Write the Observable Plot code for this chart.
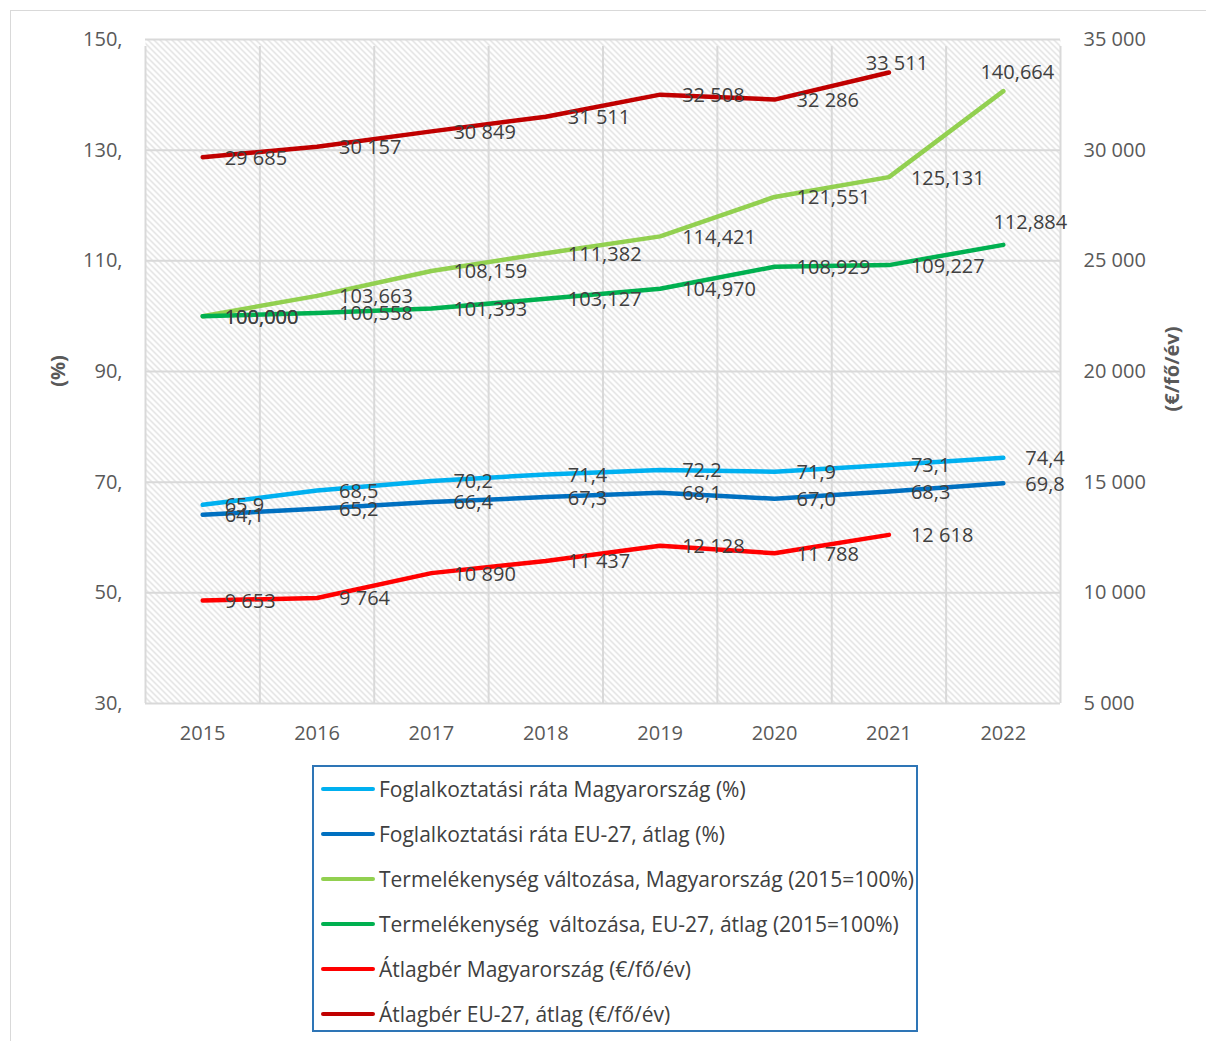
<!DOCTYPE html>
<html>
<head>
<meta charset="utf-8">
<script src="https://cdn.jsdelivr.net/npm/d3@7"></script>
<script src="https://cdn.jsdelivr.net/npm/@observablehq/plot@0.6"></script>
<style>
  html, body { margin: 0; padding: 0; overflow: hidden; background: #fff; }
  body { width: 1206px; height: 1041px; position: relative; font-family: "Open Sans", sans-serif; }
  #outer { position: absolute; left: 10px; top: 10px; width: 1300px; height: 1200px; border: 1.5px solid #d9d9d9; }
  #chart { position: absolute; left: 0; top: 0; }
  #legend { position: absolute; left: 312px; top: 765px; width: 606px; height: 267px; box-sizing: border-box; border: 2px solid #2e75b6; background: #fff; }
  .item { position: absolute; left: 0; height: 30px; display: flex; align-items: center; white-space: pre; }
  .swatch { width: 54px; height: 4px; border-radius: 2px; margin-left: 7px; margin-right: 4px; flex: none; }
  .label { font-size: 21px; color: #404040; white-space: pre; }
</style>
</head>
<body>
<div id="outer"></div>
<div id="chart"></div>
<div id="legend"></div>
<script>
// Years on the category axis
const years = [2015, 2016, 2017, 2018, 2019, 2020, 2021, 2022];
const wageYears = [2015, 2016, 2017, 2018, 2019, 2020, 2021];

// Employment rate (%)
const employmentHU = [65.9, 68.5, 70.2, 71.4, 72.2, 71.9, 73.1, 74.4];
const employmentEU = [64.1, 65.2, 66.4, 67.3, 68.1, 67.0, 68.3, 69.8];

// Productivity index (2015 = 100%)
const productivityHU = [100.000, 103.663, 108.159, 111.382, 114.421, 121.551, 125.131, 140.664];
const productivityEU = [100.000, 100.558, 101.393, 103.127, 104.970, 108.929, 109.227, 112.884];

// Average wage (€/person/year)
const wageHU = [9653, 9764, 10890, 11437, 12128, 11788, 12618];
const wageEU = [29685, 30157, 30849, 31511, 32508, 32286, 33511];

// Axis ticks
const leftTicks = [30, 50, 70, 90, 110, 130, 150];
const rightTicks = [5000, 10000, 15000, 20000, 25000, 30000, 35000];

// Series names as shown in the legend
const names = [
  "Foglalkoztatási ráta Magyarország (%)",
  "Foglalkoztatási ráta EU-27, átlag (%)",
  "Termelékenység változása, Magyarország (2015=100%)",
  "Termelékenység  változása, EU-27, átlag (2015=100%)",
  "Átlagbér Magyarország (€/fő/év)",
  "Átlagbér EU-27, átlag (€/fő/év)"
];

const huLocale = d3.formatLocale({decimal: ",", thousands: " ", grouping: [3], currency: ["", ""]});
const fmt1 = huLocale.format(".1f");
const fmt3 = huLocale.format(".3f");
const fmtInt = huLocale.format(",d");

// The right (wage) axis is mapped onto the left (percent) axis range
const leftDomain = [30, 150];
const rightDomain = [5000, 35000];
const toLeft = (w) => leftDomain[0] + (w - rightDomain[0]) * (leftDomain[1] - leftDomain[0]) / (rightDomain[1] - rightDomain[0]);

const series = [
  {name: names[0], x: years, values: employmentHU, axis: "left", color: "#00b0f0", format: fmt1},
  {name: names[1], x: years, values: employmentEU, axis: "left", color: "#0070c0", format: fmt1},
  {name: names[2], x: years, values: productivityHU, axis: "left", color: "#92d050", format: fmt3, lastLabel: {dx: 14, dy: -19}},
  {name: names[3], x: years, values: productivityEU, axis: "left", color: "#00b050", format: fmt3, lastLabel: {dx: 27, dy: -22}},
  {name: names[4], x: wageYears, values: wageHU, axis: "right", color: "#ff0000", format: fmtInt},
  {name: names[5], x: wageYears, values: wageEU, axis: "right", color: "#c00000", format: fmtInt, lastLabel: {dx: 8, dy: -9}}
];

const rows = series.map((s) => s.values.map((v, i) => ({
  series: s.name,
  year: s.x[i],
  value: v,
  y: s.axis === "left" ? v : toLeft(v),
  label: s.format(v),
  last: i === s.values.length - 1
})));

const boundaries = d3.range(years[0] - 0.5, years[years.length - 1] + 1, 1);
const gridColor = "#d9d9d9";
const labelFont = {fontSize: 20, fill: "#404040"};

const marks = [
  Plot.frame({fill: "url(#hatch)", stroke: "none"}),
  Plot.ruleY(leftTicks, {stroke: gridColor, strokeWidth: 2}),
  Plot.ruleX(boundaries, {y1: leftDomain[0], y2: leftDomain[1], insetBottom: -7, stroke: gridColor, strokeWidth: 2}),
  Plot.axisX(years, {tickSize: 0, tickPadding: 22, fontSize: 20, fill: "#595959", tickFormat: (d) => String(d), label: null}),
  Plot.axisY(leftTicks, {anchor: "left", tickSize: 0, tickPadding: 23, fontSize: 20, fill: "#595959", tickFormat: (d) => d + ",", label: null}),
  Plot.axisY(rightTicks.map(toLeft), {anchor: "right", tickSize: 0, tickPadding: 23, fontSize: 20, fill: "#595959",
    tickFormat: (d, i) => fmtInt(rightTicks[i]), label: null})
];

series.forEach((s, k) => {
  marks.push(Plot.line(rows[k], {x: "year", y: "y", stroke: s.color, strokeWidth: 4.5, strokeLinecap: "round", strokeLinejoin: "round"}));
});

series.forEach((s, k) => {
  const plain = s.lastLabel ? rows[k].filter((d) => !d.last) : rows[k];
  marks.push(Plot.text(plain, {x: "year", y: "y", text: "label", textAnchor: "start", dx: 22, dy: 1, ...labelFont}));
  if (s.lastLabel) {
    marks.push(Plot.text(rows[k].filter((d) => d.last), {x: "year", y: "y", text: "label", textAnchor: "middle",
      dx: s.lastLabel.dx, dy: s.lastLabel.dy, ...labelFont}));
  }
});

const chart = Plot.plot({
  width: 1206,
  height: 760,
  marginTop: 39,
  marginBottom: 57,
  marginLeft: 145,
  marginRight: 146,
  x: {type: "linear", domain: [boundaries[0], boundaries[boundaries.length - 1]], axis: null},
  y: {domain: leftDomain, axis: null},
  style: {fontFamily: "'Open Sans', sans-serif", fontSize: "20px", background: "transparent", overflow: "visible"},
  marks
});

// Diagonal hatch fill for the plotting area
const svgEl = chart.tagName.toLowerCase() === "svg" ? chart : chart.querySelector("svg");
const defs = d3.select(svgEl).insert("defs", ":first-child");
const pat = defs.append("pattern").attr("id", "hatch").attr("patternUnits", "userSpaceOnUse").attr("width", 6).attr("height", 6);
pat.append("rect").attr("width", 6).attr("height", 6).attr("fill", "#ffffff");
pat.append("path").attr("d", "M-1,-1L7,7M5,-1L7,1M-1,5L1,7").attr("stroke", "#d6d6d6").attr("stroke-width", 1.1);

// Axis titles
const svg = d3.select(svgEl);
svg.append("text").attr("transform", "translate(65,371) rotate(-90)").attr("text-anchor", "middle")
  .attr("font-size", 20).attr("font-weight", "bold").attr("fill", "#595959").text("(%)");
svg.append("text").attr("transform", "translate(1179,369) rotate(-90)").attr("text-anchor", "middle")
  .attr("font-size", 20).attr("font-weight", "bold").attr("fill", "#595959").text("(€/fő/év)");

document.getElementById("chart").appendChild(chart);

// Legend
const legend = d3.select("#legend");
series.forEach((s, i) => {
  const item = legend.append("div").attr("class", "item").style("top", (7 + i * 45) + "px");
  item.append("div").attr("class", "swatch").style("background", s.color);
  item.append("span").attr("class", "label").text(s.name);
});
</script>
</body>
</html>
